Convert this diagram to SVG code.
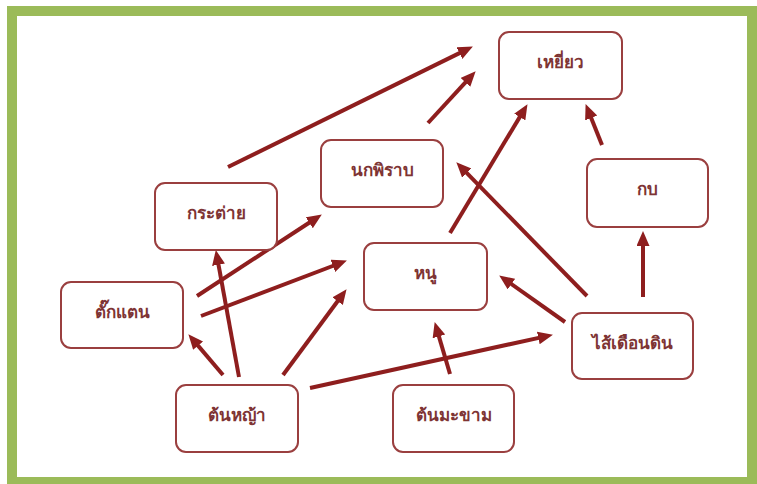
<svg xmlns="http://www.w3.org/2000/svg" width="757" height="484" viewBox="0 0 757 484">
<style>
.node rect{fill:#fff;stroke:#9a3f3f;stroke-width:2}
.node text{font-family:"Noto Sans","Liberation Sans",sans-serif;font-size:17px;font-weight:bold;fill:#7e3434;text-anchor:middle}
.conn line{stroke:#8e1e1e;stroke-width:4;marker-end:url(#ah)}
</style>
<defs>
<marker id="ah" markerUnits="userSpaceOnUse" markerWidth="16" markerHeight="14" refX="4" refY="6.5" orient="auto">
<path d="M0,0 L15,6.5 L0,13 z" fill="#8e1e1e"/>
</marker>
</defs>
<rect x="0" y="0" width="757" height="484" fill="#fff"/>
<rect x="12" y="11" width="740" height="471" fill="#fff" stroke="#9bbb59" stroke-width="10"/>
<g class="conn">
<line x1="228" y1="167" x2="463" y2="51.4"/>
<line x1="428" y1="123" x2="468.2" y2="79.4"/>
<line x1="450" y1="233" x2="521.8" y2="113.6"/>
<line x1="602" y1="145" x2="589.7" y2="114.3"/>
<line x1="587" y1="296" x2="464" y2="170.2"/>
<line x1="565" y1="322" x2="508.2" y2="281.8"/>
<line x1="643" y1="297" x2="643" y2="242"/>
<line x1="310" y1="388" x2="542.2" y2="337.1"/>
<line x1="450" y1="374" x2="437.8" y2="332.6"/>
<line x1="223" y1="375" x2="195.5" y2="342.6"/>
<line x1="239" y1="377" x2="217.8" y2="260.8"/>
<line x1="283" y1="375" x2="340" y2="298"/>
<line x1="197" y1="296" x2="312.6" y2="220.5"/>
<line x1="201" y1="316" x2="336.6" y2="264.5"/>
</g>
<g id="n-hawk" class="node"><rect x="499" y="32" width="123" height="67" rx="10"/><text x="560.5" y="68">เหยี่ยว</text></g>
<g id="n-pigeon" class="node"><rect x="321" y="140" width="122" height="67" rx="10"/><text x="382" y="176">นกพิราบ</text></g>
<g id="n-frog" class="node"><rect x="587" y="159" width="121" height="68" rx="10"/><text x="647.5" y="195">กบ</text></g>
<g id="n-rabbit" class="node"><rect x="155" y="183" width="122" height="67" rx="10"/><text x="216" y="219">กระต่าย</text></g>
<g id="n-rat" class="node"><rect x="364" y="243" width="123" height="67" rx="10"/><text x="425.5" y="279">หนู</text></g>
<g id="n-grasshopper" class="node"><rect x="61" y="282" width="122" height="66" rx="10"/><text x="122" y="318">ตั๊กแตน</text></g>
<g id="n-earthworm" class="node"><rect x="572" y="313" width="121" height="66" rx="10"/><text x="632.5" y="349">ไส้เดือนดิน</text></g>
<g id="n-grass" class="node"><rect x="176" y="385" width="122" height="67" rx="10"/><text x="237" y="421">ต้นหญ้า</text></g>
<g id="n-tamarind" class="node"><rect x="393" y="385" width="121" height="67" rx="10"/><text x="453.5" y="421">ต้นมะขาม</text></g>
</svg>
